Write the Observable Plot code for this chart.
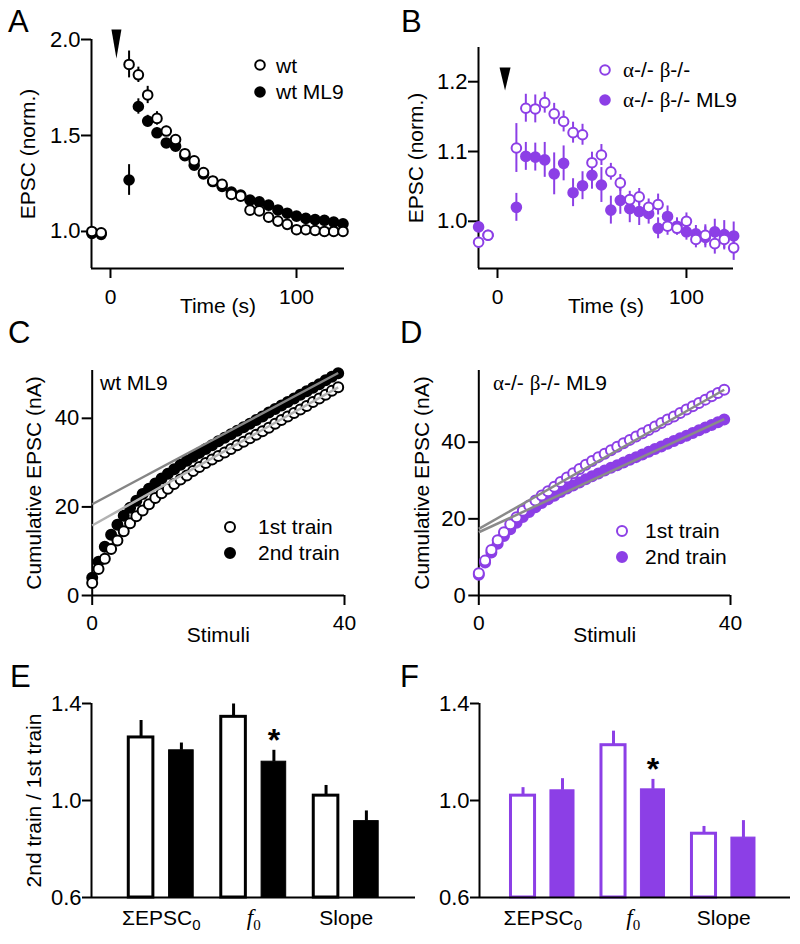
<!DOCTYPE html>
<html><head><meta charset="utf-8">
<script src="https://cdn.jsdelivr.net/npm/d3@7"></script>
<script src="https://cdn.jsdelivr.net/npm/@observablehq/plot@0.6"></script>
<style>
body{margin:0;background:#fff;}
#fig{position:relative;width:800px;height:944px;overflow:hidden;}
</style></head><body><div id="fig"></div>
<script>
const FONT = '"Liberation Sans", Arial, Helvetica, sans-serif';
const SERIF = '"Liberation Serif", "Times New Roman", serif';
const PURPLE = "#8c3fe6";

// ---------- Panel A (wt) ----------
const timeA = [-10,-5,10,15,20,25,30,35,40,45,50,55,60,65,70,75,80,85,90,95,100,105,110,115,120,125];
const wt      = [1.00,0.993,1.87,1.816,1.711,1.589,1.523,1.479,1.405,1.368,1.307,1.263,1.246,1.193,1.184,1.111,1.107,1.074,1.054,1.037,1.009,1.009,1.005,1.0,1.0,1.0];
const wtErr   = [0.01,0.01,0.07,0.04,0.045,0.035,0.025,0.02,0.02,0.018,0.015,0.015,0.015,0.012,0.012,0.012,0.012,0.01,0.01,0.01,0.01,0.01,0.01,0.01,0.01,0.01];
const wtML9   = [0.99,0.985,1.268,1.651,1.575,1.514,1.461,1.444,1.395,1.345,1.30,1.26,1.235,1.205,1.19,1.163,1.154,1.137,1.112,1.095,1.08,1.068,1.062,1.058,1.049,1.04];
const wtML9Err= [0.01,0.01,0.08,0.04,0.03,0.025,0.02,0.02,0.018,0.015,0.015,0.015,0.012,0.012,0.012,0.012,0.012,0.012,0.01,0.01,0.01,0.01,0.01,0.01,0.01,0.01];
const ticksAy = [1.0, 1.5, 2.0];
const ticksAx = [0, 100];
const stimTimeA = [3.2];

// ---------- Panel B (alpha-/- beta-/-) ----------
const timeB = timeA;
const dko      = [0.97,0.98,1.105,1.162,1.161,1.17,1.154,1.143,1.127,1.124,1.084,1.095,1.071,1.055,1.031,1.035,1.02,1.024,0.993,0.99,1.0,0.974,0.98,0.968,0.974,0.962];
const dkoErr   = [0.005,0.005,0.035,0.02,0.02,0.015,0.015,0.015,0.015,0.015,0.015,0.015,0.012,0.012,0.012,0.012,0.012,0.015,0.013,0.01,0.012,0.012,0.015,0.015,0.015,0.018];
const dkoML9   = [0.992,0.98,1.02,1.093,1.092,1.088,1.068,1.083,1.041,1.051,1.066,1.052,1.016,1.03,1.018,1.014,1.011,0.99,1.007,0.993,0.985,0.982,0.977,0.985,0.981,0.979];
const dkoML9Err= [0.005,0.005,0.02,0.02,0.02,0.025,0.03,0.025,0.02,0.02,0.02,0.025,0.02,0.02,0.02,0.02,0.015,0.015,0.015,0.012,0.012,0.012,0.015,0.018,0.02,0.02];
const ticksBy = [1.0, 1.1, 1.2];
const stimTimeB = [4];

// ---------- Panel C (wt ML9 cumulative) ----------
const stimuli = d3.range(0, 40);
const cumWt1 = [2.8,6.0,8.3,10.5,12.4,14.5,16.3,17.9,19.2,20.6,22.0,23.1,24.1,25.2,26.2,27.1,28.1,29.0,29.9,30.7,31.5,32.3,33.1,33.9,34.7,35.5,36.3,37.1,37.9,38.8,39.6,40.4,41.2,42.0,42.8,43.7,44.5,45.3,46.2,47.0];
const cumWt2 = [4.0,7.6,11.0,13.7,16.0,18.0,19.8,21.4,22.9,24.1,25.3,26.4,27.5,28.5,29.5,30.4,31.3,32.2,33.1,33.9,34.8,35.6,36.4,37.2,38.0,38.8,39.6,40.4,41.3,42.1,42.9,43.7,44.5,45.3,46.1,46.9,47.7,48.6,49.4,50.2];
const fitC = [ {train:"2nd", intercept:20.6, slope:0.76, color:"#858585"}, {train:"1st", intercept:15.8, slope:0.80, color:"#b2b2b2"} ];

// ---------- Panel D (dko ML9 cumulative) ----------
const cumDko1 = [5.8,9.1,11.9,14.4,16.5,18.6,20.4,22.1,23.5,24.8,26.1,27.2,28.4,29.6,30.8,31.9,33.0,34.1,35.1,36.1,37.0,37.9,38.8,39.7,40.6,41.5,42.3,43.2,44.1,45.0,45.9,46.7,47.6,48.5,49.4,50.2,51.1,52.0,52.8,53.7];
const cumDko2 = [5.4,8.6,11.2,13.5,15.5,17.3,19.0,20.5,21.8,23.0,24.1,25.1,26.0,27.0,27.9,28.7,29.5,30.3,31.1,31.8,32.6,33.3,34.0,34.7,35.4,36.1,36.8,37.5,38.2,38.9,39.6,40.3,41.0,41.7,42.4,43.1,43.8,44.5,45.2,45.9];
const fitD = [ {train:"2nd", intercept:16.5, slope:0.757, color:"#8a8a8a"}, {train:"1st", intercept:17.4, slope:0.93, color:"#8a8a8a"} ];
const ticksCum = [0, 20, 40];
const ticksStim = [0, 40];

// ---------- Panels E / F (ratios) ----------
const barGroups = ["ΣEPSC0", "f0", "Slope"];
const wtCtrl = [1.26, 1.345, 1.02],  wtCtrlErr = [0.07, 0.053, 0.042];
const wtMl9  = [1.207, 1.16, 0.915], wtMl9Err  = [0.03, 0.047, 0.042];
const wtSig  = [false, true, false];
const dkoCtrl = [1.02, 1.228, 0.863], dkoCtrlErr = [0.033, 0.058, 0.03];
const dkoMl9  = [1.042, 1.046, 0.847], dkoMl9Err  = [0.048, 0.041, 0.07];
const dkoSig  = [false, true, false];
const ticksRatio = [0.6, 1.0, 1.4];

// ---------- helpers ----------
const fig = document.getElementById("fig");
const f1 = d3.format(".1f");
function base(o){
  return Object.assign({style:{fontFamily:FONT, fontSize:"21px", background:"transparent", overflow:"visible", color:"black"}}, o);
}
function put(svg, left, top){
  svg.style.position = "absolute"; svg.style.left = left + "px"; svg.style.top = top + "px";
  fig.appendChild(svg); return svg;
}
const tri = (w, h) => ({draw(ctx){ ctx.moveTo(-w/2, -h/2); ctx.lineTo(w/2, -h/2); ctx.lineTo(0, h/2); ctx.closePath(); }});
const yLabel = (s, dx) => Plot.text([s], {text:d=>d, frameAnchor:"left", textAnchor:"middle", lineAnchor:"middle", rotate:-90, dx});
const xLabel = (s, dy) => Plot.text([s], {text:d=>d, frameAnchor:"bottom", textAnchor:"middle", lineAnchor:"middle", dy});

function timePanel(rows, xd, yd, yt, m, color, arrow, arrowSym, arrowDy){
  return Plot.plot(base({
    width:400, height:310, marginLeft:m[0], marginRight:m[1], marginTop:m[2], marginBottom:m[3],
    x:{domain:xd, label:null}, y:{domain:yd, label:null},
    marks:[
      Plot.ruleX([xd[0]], {strokeWidth:2}),
      Plot.ruleY([yd[0]], {strokeWidth:2}),
      Plot.axisY({ticks:yt, tickSize:10, tickPadding:1, tickFormat:f1, strokeWidth:2, fontSize:22, label:null}),
      Plot.axisX({ticks:ticksAx, tickSize:10, tickPadding:11, strokeWidth:2, label:null}),
      Plot.ruleX(rows, {x:"t", y1:d=>d.b-d.bE, y2:d=>d.b+d.bE, stroke:color, strokeWidth:2}),
      Plot.dot(rows, {x:"t", y:"b", r:4.8, fill:color, stroke:color, strokeWidth:2}),
      Plot.ruleX(rows, {x:"t", y1:d=>d.a-d.aE, y2:d=>d.a+d.aE, stroke:color, strokeWidth:2}),
      Plot.dot(rows, {x:"t", y:"a", r:4.8, fill:"white", stroke:color, strokeWidth:2}),
      Plot.dot(arrow, {x:d=>d, frameAnchor:"top", dy:arrowDy, symbol:arrowSym, r:5, fill:"black", stroke:"none"}),
      yLabel("EPSC (norm.)", m[4]),
      xLabel("Time (s)", 38)
    ]
  }));
}

// Panel A
const rowsA = timeA.map((t,i)=>({t, a:wt[i], aE:wtErr[i], b:wtML9[i], bE:wtML9Err[i]}));
put(timePanel(rowsA, [-10.2,125.8], [0.807,2.0], ticksAy, [91,56,39,42,-63], "black", stimTimeA, tri(10,29), 4.5), 0, 0);

// Panel B
const rowsB = timeB.map((t,i)=>({t, a:dko[i], aE:dkoErr[i], b:dkoML9[i], bE:dkoML9Err[i]}));
put(timePanel(rowsB, [-10.05,124.9], [0.9324,1.249], ticksBy, [78,67,47,42,-62], PURPLE, stimTimeB, tri(11,23), 31.5), 400, 0);

function cumPanel(s1, s2, fits, yd, m, color, lw){
  const rows = stimuli.map((s,i)=>({s, a:s1[i], b:s2[i]}));
  const last = stimuli[stimuli.length-1];
  return Plot.plot(base({
    width:400, height:330, marginLeft:m[0], marginRight:m[1], marginTop:60, marginBottom:45,
    x:{domain:[0,40], label:null}, y:{domain:yd, label:null},
    marks:[
      Plot.ruleX([0], {strokeWidth:2}),
      Plot.ruleY([0], {strokeWidth:2}),
      Plot.axisY({ticks:ticksCum, tickSize:10, tickPadding:3, strokeWidth:2, fontSize:22, label:null}),
      Plot.axisX({ticks:ticksStim, tickSize:10, tickPadding:10, strokeWidth:2, label:null}),
      Plot.dot(rows, {x:"s", y:"b", r:5, fill:color, stroke:color, strokeWidth:2}),
      Plot.dot(rows, {x:"s", y:"a", r:5, fill:"white", stroke:color, strokeWidth:2}),
      Plot.link(fits, {x1:()=>0, y1:"intercept", x2:()=>last, y2:d=>d.intercept + d.slope*last, stroke:"color", strokeWidth:lw}),
      yLabel("Cumulative EPSC (nA)", m[2]),
      xLabel("Stimuli", 40)
    ]
  }));
}
put(cumPanel(cumWt1, cumWt2, fitC, [0,50.8], [91.7,56,-58], "black", 2.5), 0, 310);
put(cumPanel(cumDko1, cumDko2, fitD, [0,58.7], [78.3,70,-57], PURPLE, 2.5), 400, 310);

const OFF = 0.218, HW = 0.133;
function barPanel(ctrl, ctrlE, ml, mlE, sig, xd, w, m, color, ylabel){
  const rows = barGroups.flatMap((g,i)=>[
    {g:i, c:0, v:ctrl[i], e:ctrlE[i], sig:false},
    {g:i, c:1, v:ml[i], e:mlE[i], sig:sig[i]}
  ]);
  const xc = d => d.g + (d.c ? OFF : -OFF);
  const marks = [
    Plot.rect(rows.filter(d=>d.c===1), {x1:d=>xc(d)-HW, x2:d=>xc(d)+HW, y1:()=>0.6, y2:"v", fill:color, stroke:color, strokeWidth:1}),
    Plot.rect(rows.filter(d=>d.c===0), {x1:d=>xc(d)-HW, x2:d=>xc(d)+HW, y1:()=>0.6, y2:"v", fill:"white", stroke:color, strokeWidth:3}),
    Plot.ruleX(rows, {x:xc, y1:"v", y2:d=>d.v+d.e, stroke:color, strokeWidth:3}),
    Plot.text(rows.filter(d=>d.sig), {x:xc, y:d=>d.v+d.e, text:()=>"*", dy:-10, fontSize:32, fontWeight:"bold", fill:"black"}),
    Plot.ruleX([xd[0]], {strokeWidth:2}),
    Plot.ruleY([0.6], {strokeWidth:2}),
    Plot.axisY({ticks:ticksRatio, tickSize:9, tickPadding:1, tickFormat:f1, strokeWidth:2, fontSize:22, label:null}),
    Plot.axisX({ticks:[0,1,2], tickSize:0, tickPadding:13, tickFormat:i=>barGroups[i], label:null})
  ];
  if (ylabel) marks.push(yLabel(ylabel, -57.5));
  const svg = Plot.plot(base({
    width:w, height:304, marginLeft:m[0], marginRight:m[1], marginTop:63, marginBottom:47,
    x:{domain:xd, label:null}, y:{domain:[0.6,1.4], label:null}, marks
  }));
  // subscripts / italics in group labels
  svg.querySelectorAll("text").forEach(t=>{
    const s = t.textContent;
    if (s === "ΣEPSC0" || s === "f0") {
      while (t.firstChild) t.removeChild(t.firstChild);
      const NS = "http://www.w3.org/2000/svg";
      const a = document.createElementNS(NS, "tspan");
      a.textContent = s.slice(0, -1);
      if (s === "f0") { a.setAttribute("font-family", SERIF); a.setAttribute("font-style", "italic"); a.setAttribute("font-size", "23px"); }
      const b = document.createElementNS(NS, "tspan");
      b.textContent = "0"; b.setAttribute("dy", "5"); b.setAttribute("font-size", "15px");
      if (s === "f0") b.setAttribute("font-family", SERIF);
      t.appendChild(a); t.appendChild(b);
    }
  });
  return svg;
}
put(barPanel(wtCtrl, wtCtrlErr, wtMl9, wtMl9Err, wtSig, [-0.754,2.749], 420, [91,5], "black", "2nd train / 1st train"), 0, 640);
put(barPanel(dkoCtrl, dkoCtrlErr, dkoMl9, dkoMl9Err, dkoSig, [-0.699,2.738], 400, [79,10], PURPLE, null), 400, 640);

// ---------- annotations (panel letters, legends, labels) ----------
const ov = d3.select(fig).append("svg").attr("width",800).attr("height",944)
  .style("position","absolute").style("left","0px").style("top","0px")
  .style("font-family", FONT).style("pointer-events","none");
function txt(x, y, parts, size){
  const t = ov.append("text").attr("x",x).attr("y",y).attr("font-size", size||21);
  parts.forEach(p=>{ const s = t.append("tspan").text(p[0]); if (p[1]) s.attr("font-family", SERIF); });
}
function sym(x, y, filled, color, r){
  ov.append("circle").attr("cx",x).attr("cy",y).attr("r",r||4.8)
    .attr("fill", filled ? color : "white").attr("stroke", color).attr("stroke-width", 2);
}
const greek = [["α",1],["-/- "],["β",1],["-/-"]];
[["A",8,32],["B",401,32],["C",8,343],["D",400,343],["E",10,687],["F",400,687]].forEach(([l,x,y])=>txt(x,y,[[l]],31));
// A legend
sym(260,65,false,"black"); txt(276,73,[["wt"]]);
sym(260,92,true,"black");  txt(276,99,[["wt ML9"]]);
// B legend
sym(605,70,false,PURPLE); txt(623,77,greek);
sym(605,100,true,PURPLE); txt(623,107,greek.concat([[" ML9"]]));
// C labels
txt(100,390,[["wt ML9"]]);
sym(230,527,false,"black",5); txt(258,534,[["1st train"]]);
sym(230,553,true,"black",5);  txt(258,560,[["2nd train"]]);
// D labels
txt(493,390,greek.concat([[" ML9"]]));
sym(622,531,false,PURPLE,5); txt(645,538,[["1st train"]]);
sym(622,557,true,PURPLE,5);  txt(645,564,[["2nd train"]]);
</script>
</body></html>
